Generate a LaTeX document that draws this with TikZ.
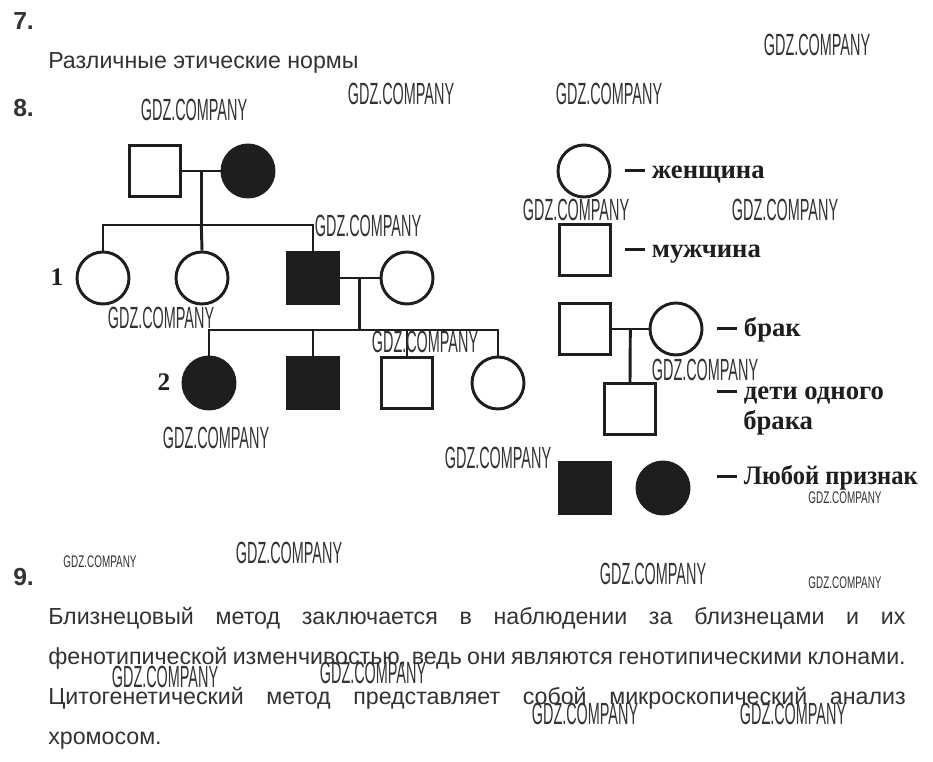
\documentclass[tikz,border=0pt]{standalone}
\usepackage{fontspec}
\setmainfont{Liberation Serif}
\setsansfont{Liberation Sans}
\usetikzlibrary{positioning,calc}
\definecolor{ink}{HTML}{1E1E1E}
\definecolor{txt}{HTML}{333333}

\newcommand{\legdash}{\rule[0.26em]{15pt}{2pt}\hspace{5pt}}

\tikzset{
  male/.style={draw=ink, rectangle, minimum size=38.5pt, inner sep=0pt, line width=2.2pt},
  female/.style={draw=ink, circle, minimum size=39pt, inner sep=0pt, line width=2.2pt},
  ill/.style={fill=ink},
  link/.style={draw=ink, line width=2.2pt},
  legtext/.style={anchor=base west, inner sep=0pt, text=ink, font=\bfseries\fontsize{20}{22}\selectfont},
  numlabel/.style={anchor=base, inner sep=0pt, text=ink, font=\bfseries\fontsize{19}{22}\selectfont},
  tasknum/.style={anchor=base west, inner sep=0pt, text=txt, font=\sffamily\bfseries\fontsize{18.5}{20}\selectfont},
  para/.style={anchor=base west, inner sep=0pt, text=txt, font=\sffamily\fontsize{17.4}{20}\selectfont},
  wm/.style={inner sep=0pt, text=txt, font=\sffamily\fontsize{23}{23}\selectfont},
  wmsmall/.style={inner sep=0pt, text=txt, font=\sffamily\fontsize{12.6}{13}\selectfont}
}

\begin{document}
\begin{tikzpicture}[x=0.75pt, y=-0.75pt]
    \fill[white] (0,0) rectangle (933,762);
    \useasboundingbox (0,0) rectangle (933,762);

    % task 7
    \node[tasknum] (n7) at (13,30) {7.};
    \node[para] (ans7) at (48,69) {Различные этические нормы};

    % task 8: pedigree
    \node[tasknum] (n8) at (13,117) {8.};

    \node[male] (a1) at (155,171) {};
    \node[female, ill] (a2) at (248,171) {};
    \draw[link] (a1) -- (a2);
    \coordinate (m1) at ($(a1.east)!0.5!(a2.west)$);
    \coordinate (s1) at (m1 |- 0,225);

    \node[female] (b1) at (103,278) {};
    \node[female] (b2) at (202,278) {};
    \node[male, ill] (b3) at (313,278) {};
    \node[female] (b4) at (407,278) {};
    \draw[link] (m1) -- (s1);
    \draw[link] (b1.north) |- (s1) -| (b3.north);
    \draw[link] (s1) -- (b2.north);
    \draw[link] (b3) -- (b4);
    \node[numlabel] (one) at (57,286) {1};

    \coordinate (m2) at ($(b3.east)!0.5!(b4.west)$);
    \coordinate (s2) at (m2 |- 0,330);
    \node[female, ill] (c1) at (209,383) {};
    \node[male, ill] (c2) at (313,383) {};
    \node[male] (c3) at (407,383) {};
    \node[female] (c4) at (498,383) {};
    \draw[link] (m2) -- (s2);
    \draw[link] (c1.north) |- (s2) -| (c4.north);
    \draw[link] (c2.north) -- (c2.north |- s2);
    \draw[link] (c3.north) -- (c3.north |- s2);
    \node[numlabel] (two) at (164,391) {2};

    % legend
    \node[female] (lf) at (584,171) {};
    \node[legtext] (tf) at (625,179) {\legdash женщина};
    \node[male] (lm) at (585,250) {};
    \node[legtext] (tm) at (625,258) {\legdash мужчина};

    \node[male] (lh) at (585,329) {};
    \node[female] (lw) at (676,329) {};
    \draw[link] (lh) -- (lw);
    \coordinate (m3) at ($(lh.east)!0.5!(lw.west)$);
    \node[male] (lc) at (630,409) {};
    \draw[link] (m3) -- (lc.north);
    \node[legtext] (tb) at (717,337) {\legdash брак};
    \node[legtext] (td) at (717,400) {\legdash дети одного};
    \node[legtext] (td2) at (743,430) {брака};

    \node[male, ill] (la) at (585,488) {};
    \node[female, ill] (lb) at (663,488) {};
    \node[legtext] (tl) at (717,485) {\legdash\scalebox{0.92}[1]{Любой признак}};

    % task 9
    \node[tasknum] (n9) at (13,586) {9.};
    \node[para] (p1) at (48,625) {\makebox[643pt][s]{Близнецовый метод заключается в наблюдении за близнецами и их}};
    \node[para] (p2) at (48,665) {\makebox[643pt][s]{фенотипической изменчивостью, ведь они являются генотипическими клонами.}};
    \node[para] (p3) at (48,705) {\makebox[643pt][s]{Цитогенетический метод представляет собой микроскопический анализ}};
    \node[para] (p4) at (48,745) {хромосом.};

    % watermarks
    \foreach \i/\x/\y in {1/817/45, 2/194/110, 3/401/94, 4/609/94, 5/368/226,
        6/161/318, 7/425/342, 8/216/438, 9/498/458, 10/576/210, 11/785/210,
        12/705/370, 13/289/553, 14/653/574, 15/165/677, 16/373/673,
        17/585/714, 18/793/714}
        \node[wm] (wm\i) at (\x,\y) {\scalebox{0.47}[1]{GDZ.COMPANY}};
    \foreach \i/\x/\y in {19/100/562, 20/845/498, 21/845/583}
        \node[wmsmall] (wm\i) at (\x,\y) {\scalebox{0.59}[1]{GDZ.COMPANY}};
\end{tikzpicture}
\end{document}
